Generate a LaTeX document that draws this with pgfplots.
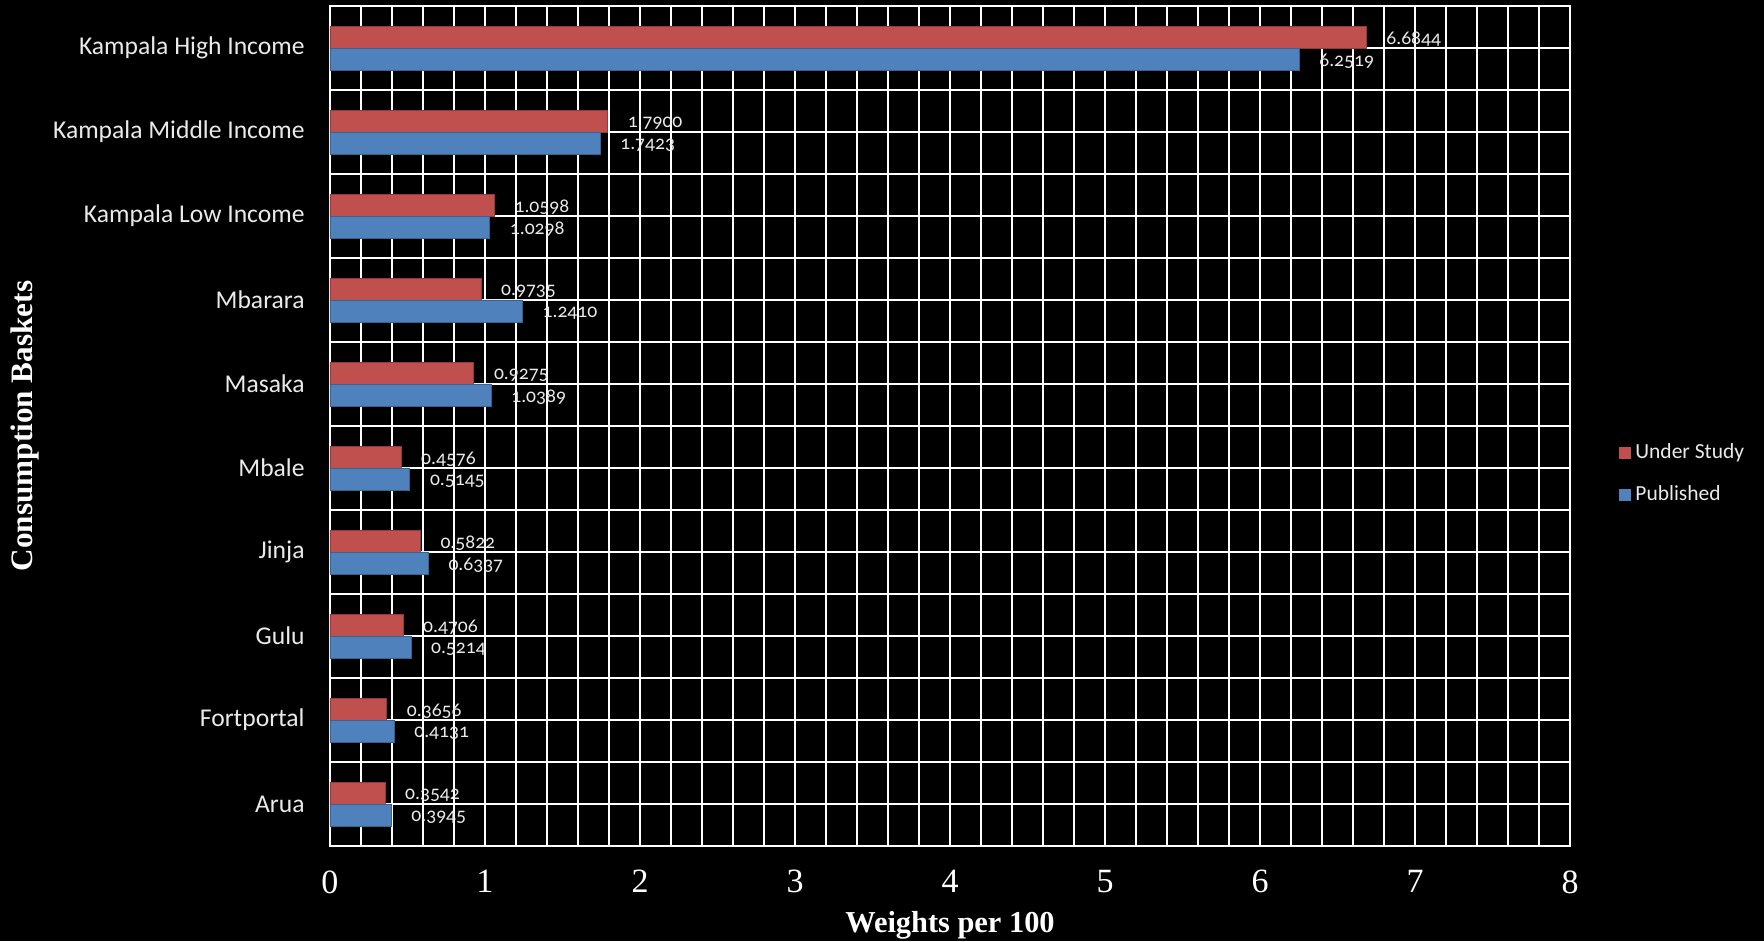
\documentclass[border=0pt]{standalone}
\usepackage{pgfplots}
\pgfplotsset{compat=1.18}
\usepackage{pgfplotstable}
\usepackage{fontspec}
\setmainfont{Liberation Serif}
\newfontfamily\catfont{Carlito}
\newfontfamily\numfont[Numbers=OldStyle]{Carlito}
\definecolor{studyred}{HTML}{C0504D}
\definecolor{pubblue}{HTML}{4F81BD}
\definecolor{softwhite}{HTML}{EAEAEA}

% Basket weights per 100: position (top = 9), under study, published
\pgfplotstableread{
pos understudy published
9 6.6844 6.2519
8 1.7900 1.7423
7 1.0598 1.0298
6 0.9735 1.2410
5 0.9275 1.0389
4 0.4576 0.5145
3 0.5822 0.6337
2 0.4706 0.5214
1 0.3656 0.4131
0 0.3542 0.3945
}\weights

\begin{document}
\begin{tikzpicture}
\fill[black] (-165pt,-47.5pt) rectangle (717pt,423pt);
\begin{axis}[
  at={(0,0)}, anchor=south west,
  scale only axis, width=620pt, height=420pt,
  xbar, bar width=0.26,
  xmin=0, xmax=8, ymin=-0.5, ymax=9.5,
  xtick={0,...,8}, minor x tick num=4,
  ytick={0,...,9}, minor ytick={-0.5,0.5,...,9.5},
  yticklabels={Arua,Fortportal,Gulu,Jinja,Mbale,Masaka,Mbarara,Kampala Low Income,Kampala Middle Income,Kampala High Income},
  major tick length=0pt, minor tick length=0pt,
  xmajorgrids, xminorgrids, ymajorgrids, yminorgrids,
  major grid style={white, line width=0.9pt},
  minor grid style={white, line width=0.9pt},
  axis line style={white, line width=0.9pt},
  /pgf/number format/assume math mode=true,
  xticklabel style={anchor=north, inner sep=0pt, yshift=-12pt,
    font=\fontsize{17}{17}\selectfont, text=white},
  yticklabel style={anchor=east, inner sep=0pt, xshift=-12.5pt,
    font=\catfont\fontsize{12.8}{15}\selectfont, text=softwhite},
  xlabel={Weights per 100},
  xlabel style={at={(axis description cs:0.5,-0.094)}, anchor=center,
    inner sep=0pt, font=\bfseries\fontsize{15.2}{16}\selectfont, text=white},
  ylabel={Consumption Baskets},
  ylabel style={at={(axis description cs:-0.246,0.5)}, anchor=center, rotate=0,
    inner sep=0pt, font=\bfseries\fontsize{15.6}{16}\selectfont, text=white},
  nodes near coords={\pgfmathprintnumber[fixed,fixed zerofill,precision=4,assume math mode=true]{\pgfplotspointmeta}},
  every node near coord/.append style={anchor=west, inner sep=0pt, xshift=10pt, yshift=-1pt,
    text=softwhite, font=\numfont\fontsize{9.8}{10}\selectfont},
  legend style={at={(axis description cs:1.0395,0.443)}, anchor=west,
    draw=none, fill=none, inner sep=0pt, row sep=8pt,
    font=\catfont\fontsize{10.75}{12}\selectfont, text=softwhite},
  legend cell align=left,
  legend image code/.code={\fill[#1, draw=none] (0pt,-3pt) rectangle (6pt,3pt);},
]
\addplot[fill=studyred, draw=studyred!75!black, line width=0.3pt, bar shift=0.13]
  table[x=understudy, y=pos] {\weights};
\addplot[fill=pubblue, draw=pubblue!75!black, line width=0.3pt, bar shift=-0.13]
  table[x=published, y=pos] {\weights};
\legend{Under Study, Published}
\end{axis}
\pgfresetboundingbox
\useasboundingbox (-165pt,-47.5pt) rectangle (717pt,423pt);
\end{tikzpicture}
\end{document}
